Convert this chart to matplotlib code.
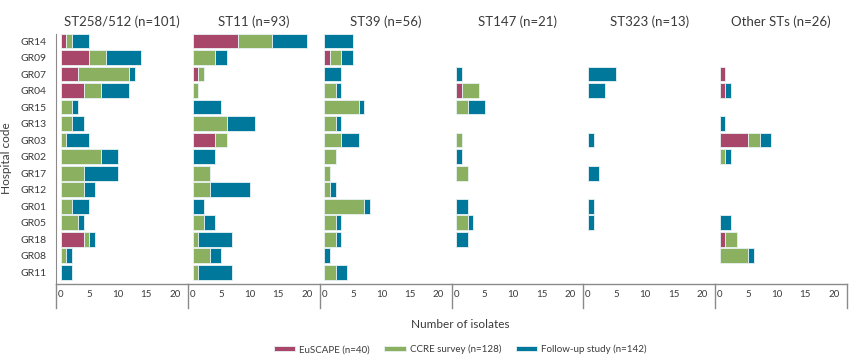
import matplotlib.pyplot as plt
import matplotlib.lines as mlines
import numpy as np

plt.rcParams['font.family'] = ['Lato', 'DejaVu Sans']

hospitals = ["GR14", "GR09", "GR07", "GR04", "GR15", "GR13", "GR03", "GR02",
             "GR17", "GR12", "GR01", "GR05", "GR18", "GR08", "GR11"]

panel_titles = ["ST258/512 (n=101)", "ST11 (n=93)", "ST39 (n=56)",
                "ST147 (n=21)", "ST323 (n=13)", "Other STs (n=26)"]

# values per hospital, in the order of the hospitals list
st258_euscape = [1, 5, 3, 4, 0, 0, 0, 0, 0, 0, 0, 0, 4, 0, 0]
st258_ccre = [1, 3, 9, 3, 2, 2, 1, 7, 4, 4, 2, 3, 1, 1, 0]
st258_follow = [3, 6, 1, 5, 1, 2, 4, 3, 6, 2, 3, 1, 1, 1, 2]

st11_euscape = [8, 0, 1, 0, 0, 0, 4, 0, 0, 0, 0, 0, 0, 0, 0]
st11_ccre = [6, 4, 1, 1, 0, 6, 2, 0, 3, 3, 0, 2, 1, 3, 1]
st11_follow = [6, 2, 0, 0, 5, 5, 0, 4, 0, 7, 2, 2, 6, 2, 6]

st39_euscape = [0, 1, 0, 0, 0, 0, 0, 0, 0, 0, 0, 0, 0, 0, 0]
st39_ccre = [0, 2, 0, 2, 6, 2, 3, 2, 1, 1, 7, 2, 2, 0, 2]
st39_follow = [5, 2, 3, 1, 1, 1, 3, 0, 0, 1, 1, 1, 1, 1, 2]

st147_euscape = [0, 0, 0, 1, 0, 0, 0, 0, 0, 0, 0, 0, 0, 0, 0]
st147_ccre = [0, 0, 0, 3, 2, 0, 1, 0, 2, 0, 0, 2, 0, 0, 0]
st147_follow = [0, 0, 1, 0, 3, 0, 0, 1, 0, 0, 2, 1, 2, 0, 0]

st323_euscape = [0] * 15
st323_ccre = [0] * 15
st323_follow = [0, 0, 5, 3, 0, 0, 1, 0, 2, 0, 1, 1, 0, 0, 0]

other_euscape = [0, 0, 1, 1, 0, 0, 5, 0, 0, 0, 0, 0, 1, 0, 0]
other_ccre = [0, 0, 0, 0, 0, 0, 2, 1, 0, 0, 0, 0, 2, 5, 0]
other_follow = [0, 0, 0, 1, 0, 1, 2, 1, 0, 0, 0, 2, 0, 1, 0]

panels = [
    (st258_euscape, st258_ccre, st258_follow),
    (st11_euscape, st11_ccre, st11_follow),
    (st39_euscape, st39_ccre, st39_follow),
    (st147_euscape, st147_ccre, st147_follow),
    (st323_euscape, st323_ccre, st323_follow),
    (other_euscape, other_ccre, other_follow),
]

series_labels = ["EuSCAPE (n=40)", "CCRE survey (n=128)", "Follow-up study (n=142)"]
colors = ["#a8476a", "#8bb05f", "#00789c"]
text_col = "#3a3a3a"
axis_col = "#8a8a8a"

fig, axes = plt.subplots(1, 6, figsize=(8.65, 3.62), dpi=100, sharey=True)
fig.subplots_adjust(left=0.065, right=0.979, bottom=0.215, top=0.914, wspace=0)

y = np.arange(len(hospitals))
for i, ax in enumerate(axes):
    left = np.zeros(len(hospitals))
    for vals, col, lab in zip(panels[i], colors, series_labels):
        vals = np.array(vals)
        nz = vals > 0  # skip empty segments so no stray edge lines show
        ax.barh(y[nz], vals[nz], left=left[nz], height=0.9, color=col,
                edgecolor="#e8f2f4", linewidth=0.6, label=lab)
        left = left + vals
    ax.set_xlim(-0.8, 22.3)
    ax.set_ylim(14.73, -0.6)
    ax.set_xticks([0, 5, 10, 15, 20])
    ax.tick_params(axis="x", length=0, labelsize=7, colors=text_col, pad=4)
    ax.tick_params(axis="y", length=0, labelsize=7.5, colors=text_col, pad=7)
    ax.set_title(panel_titles[i], fontsize=9.5, color=text_col, pad=4)
    for s in ["top", "right", "left"]:
        ax.spines[s].set_visible(False)
    ax.spines["bottom"].set_color(axis_col)
    ax.spines["bottom"].set_linewidth(1)
    # separator marks below the axis line
    ax.add_line(mlines.Line2D([0, 0], [0, -0.095], transform=ax.transAxes,
                              color=axis_col, lw=1, clip_on=False))
    if i == 5:
        ax.add_line(mlines.Line2D([1, 1], [0, -0.095], transform=ax.transAxes,
                                  color=axis_col, lw=1, clip_on=False))

axes[0].spines["left"].set_visible(True)
axes[0].spines["left"].set_color(axis_col)
axes[0].spines["left"].set_bounds(14.73, -0.45)
axes[0].set_yticks(y)
axes[0].set_yticklabels(hospitals)
axes[0].set_ylabel("Hospital code", fontsize=8.5, color=text_col, labelpad=6)

fig.text(0.532, 0.095, "Number of isolates", ha="center", fontsize=8.5, color=text_col)

handles, labels = axes[0].get_legend_handles_labels()
fig.legend(handles, labels, loc="center", bbox_to_anchor=(0.532, 0.035), ncol=3,
           frameon=False, fontsize=7, handlelength=2.2, handleheight=0.4,
           columnspacing=1.5, handletextpad=0.4, labelcolor=text_col)

plt.savefig("out.png", dpi=100)
plt.close()
